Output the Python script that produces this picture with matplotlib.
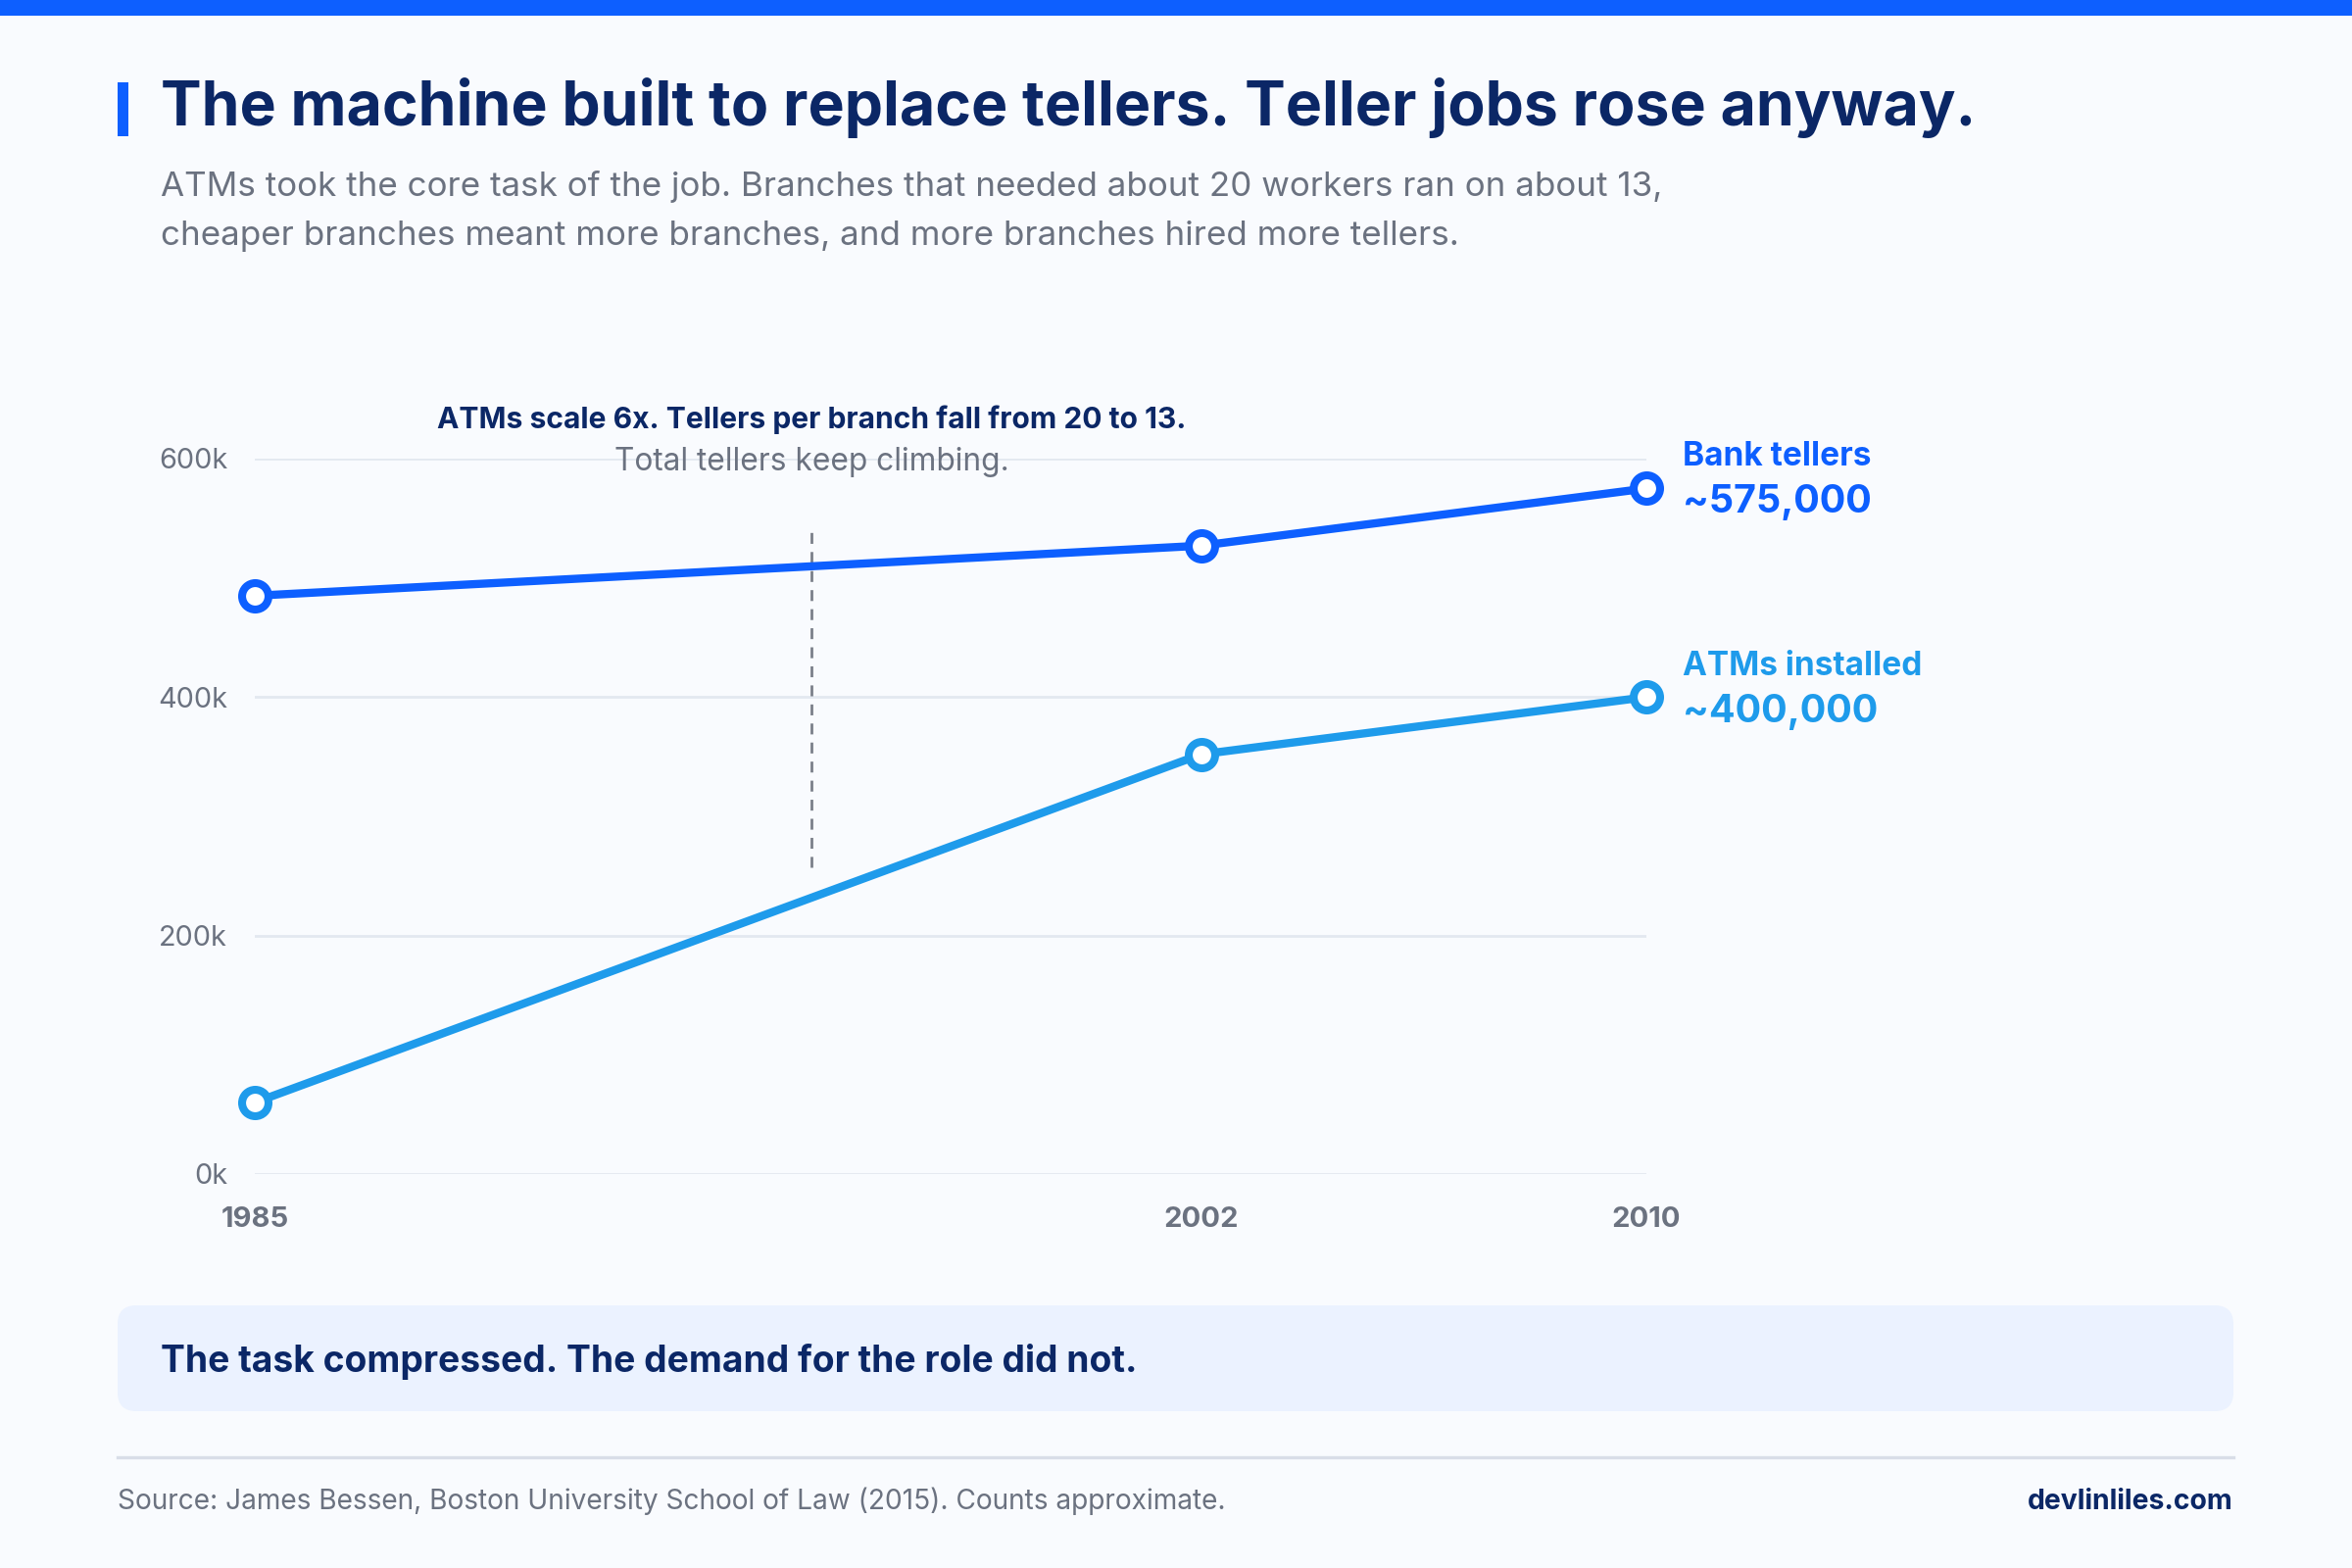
import matplotlib
matplotlib.use("Agg")
import matplotlib.pyplot as plt
from matplotlib.patches import FancyBboxPatch, Rectangle
from matplotlib.lines import Line2D

plt.rcParams['font.family'] = ['Inter', 'DejaVu Sans']

# ---- data ----
years = [1985, 2002, 2010]
tellers = [485000, 527000, 575000]
atms = [60000, 352000, 400000]
y_ticks = [0, 200000, 400000, 600000]
y_tick_labels = ["0k", "200k", "400k", "600k"]
annot_year = 1995
annot_range = [257000, 545000]

W, H = 2400, 1600
BG = "#F9FBFE"
BLUE = "#0D5FFF"
SKY = "#1E9BEB"
NAVY = "#0B2766"
GRAY = "#6B7280"
GRID = "#E3E8F0"

fig = plt.figure(figsize=(12, 8), dpi=200, facecolor=BG)

def fx(x): return x / W
def fy(y): return 1 - y / H

def txt(x, y, s, **kw):
    fig.text(fx(x), fy(y), s, **kw)

# top bar
fig.add_artist(Rectangle((0, fy(16)), 1, 16 / H, transform=fig.transFigure, color=BLUE, lw=0))
# accent bar
fig.add_artist(Rectangle((fx(120), fy(139)), 11 / W, 55 / H, transform=fig.transFigure, color=BLUE, lw=0))

txt(164, 128, "The machine built to replace tellers. Teller jobs rose anyway.",
    fontsize=22.5, fontweight='bold', color=NAVY, va='baseline')
txt(164, 200, "ATMs took the core task of the job. Branches that needed about 20 workers ran on about 13,",
    fontsize=12.6, color=GRAY, va='baseline')
txt(164, 250, "cheaper branches meant more branches, and more branches hired more tellers.",
    fontsize=12.6, color=GRAY, va='baseline')

# axes
ax = fig.add_axes([fx(260), fy(1198), (1680 - 260) / W, (1198 - 468) / H])
ax.set_facecolor("none")
ax.set_xlim(1985, 2010)
ax.set_ylim(0, 600000)
for s in ax.spines.values():
    s.set_visible(False)
for t in y_ticks:
    ax.axhline(t, color=GRID, lw=1.0, zorder=0)
ax.set_yticks(y_ticks)
ax.set_yticklabels(y_tick_labels)
ax.set_xticks(years)
ax.set_xticklabels([str(y) for y in years])
ax.tick_params(axis='y', length=0, pad=10, labelsize=10.4, labelcolor=GRAY)
ax.tick_params(axis='x', length=0, pad=12, labelsize=10.5, labelcolor=GRAY)
for lab in ax.get_xticklabels():
    lab.set_fontweight('bold')

ax.vlines(annot_year, annot_range[0], annot_range[1], colors="#7B808A", lw=1.0,
          linestyles=(0, (4, 3)), zorder=1)

ax.plot(years, atms, color=SKY, lw=3, marker='o', ms=9.7, mfc='white', mec=SKY,
        mew=2.9, clip_on=False, zorder=3)
ax.plot(years, tellers, color=BLUE, lw=3, marker='o', ms=9.7, mfc='white', mec=BLUE,
        mew=2.9, clip_on=False, zorder=3)

# annotation text
txt(828, 437, "ATMs scale 6x. Tellers per branch fall from 20 to 13.", fontsize=10.8,
    fontweight='bold', color=NAVY, ha='center', va='baseline')
txt(828, 480, "Total tellers keep climbing.", fontsize=11.4, color=GRAY, ha='center', va='baseline')

# right labels
txt(1717, 475, "Bank tellers", fontsize=12, fontweight='bold', color=BLUE, va='baseline')
txt(1717, 523, "~575,000", fontsize=14.2, fontweight='bold', color=BLUE, va='baseline')
txt(1717, 689, "ATMs installed", fontsize=12, fontweight='bold', color=SKY, va='baseline')
txt(1717, 737, "~400,000", fontsize=14.2, fontweight='bold', color=SKY, va='baseline')

# callout box
box = FancyBboxPatch((fx(120), fy(1440)), (2279 - 120) / W, (1440 - 1332) / H,
                     boxstyle="round,pad=0,rounding_size=0.008",
                     transform=fig.transFigure, facecolor="#EBF2FF", edgecolor="none",
                     mutation_aspect=1.5)
fig.add_artist(box)
txt(164, 1400, "The task compressed. The demand for the role did not.", fontsize=13.4,
    fontweight='bold', color=NAVY, va='baseline')

# divider
fig.add_artist(Line2D([fx(120), fx(2279)], [fy(1487), fy(1487)], transform=fig.transFigure,
                      color="#D9DEE8", lw=1.2))

txt(120, 1540, "Source: James Bessen, Boston University School of Law (2015). Counts approximate.",
    fontsize=10.1, color=GRAY, va='baseline')
txt(2279, 1540, "devlinliles.com", fontsize=10.2, fontweight='bold', color=NAVY,
    ha='right', va='baseline')

fig.savefig("out.png", dpi=200, facecolor=BG)
